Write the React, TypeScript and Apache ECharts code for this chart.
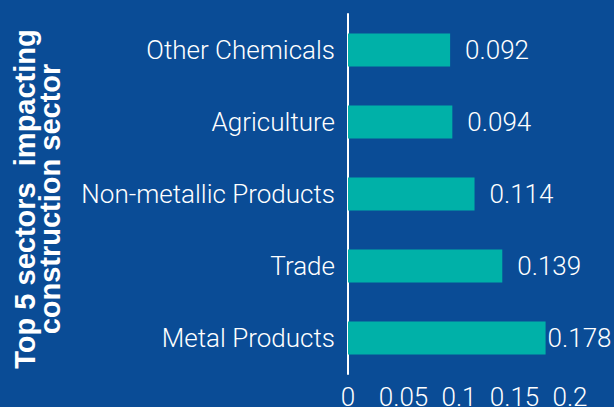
import React, { useEffect, useRef } from "react";
import * as echarts from "echarts";

const categories = ["Metal Products", "Trade", "Non-metallic Products", "Agriculture", "Other Chemicals"];
const values = [0.178, 0.139, 0.114, 0.094, 0.092];
const xTicks = [0, 0.05, 0.1, 0.15, 0.2];
const titleLines = ["Top 5 sectors  impacting", "construction sector"];

const BG = "#0a4c96";
const BAR = "#00b1a8";
const FONT = "Roboto";
const FS = 26;

export default function App() {
  const ref = useRef<HTMLDivElement>(null);
  useEffect(() => {
    if (!ref.current) return;
    const chart = echarts.init(ref.current, undefined, { renderer: "svg" });
    chart.setOption({
      animation: false,
      backgroundColor: BG,
      grid: {
        left: 348,
        right: 44,
        top: 14,
        bottom: 33,
        containLabel: false,
        outerBoundsMode: "none",
      },
      xAxis: {
        type: "value",
        min: xTicks[0],
        max: xTicks[xTicks.length - 1],
        interval: 0.05,
        axisLine: { show: false },
        axisTick: { show: false },
        splitLine: { show: false },
        axisLabel: {
          color: "#ffffff",
          fontFamily: FONT,
          fontWeight: 300,
          fontSize: FS,
          margin: 10,
          formatter: (v: number) => String(Number(v.toFixed(2))),
        },
      },
      yAxis: {
        type: "category",
        data: categories,
        axisLine: { show: true, lineStyle: { color: "#ffffff", width: 2 } },
        axisTick: { show: false },
        axisLabel: {
          color: "#ffffff",
          fontFamily: FONT,
          fontWeight: 300,
          fontSize: FS,
          margin: 13,
        },
      },
      series: [
        {
          type: "bar",
          barWidth: 33,
          itemStyle: { color: BAR },
          data: values.map((v, i) => ({
            value: v,
            label: { distance: i === 0 ? 2 : 15 },
          })),
          label: {
            show: true,
            position: "right",
            color: "#ffffff",
            fontFamily: FONT,
            fontWeight: 300,
            fontSize: FS,
            formatter: (p: any) => p.value.toFixed(3),
          },
        },
      ],
      graphic: [
        {
          type: "text",
          x: 37,
          y: 199,
          rotation: Math.PI / 2,
          style: {
            text: titleLines.join("\n"),
            fill: "#ffffff",
            font: `bold 29px "Liberation Sans", Arial, sans-serif`,
            lineHeight: 25,
            align: "center",
            verticalAlign: "middle",
          },
        },
      ],
    });
    return () => chart.dispose();
  }, []);
  return (
    <div
      ref={ref}
      style={{ position: "absolute", left: 0, top: 0, width: 614, height: 407 }}
    />
  );
}
